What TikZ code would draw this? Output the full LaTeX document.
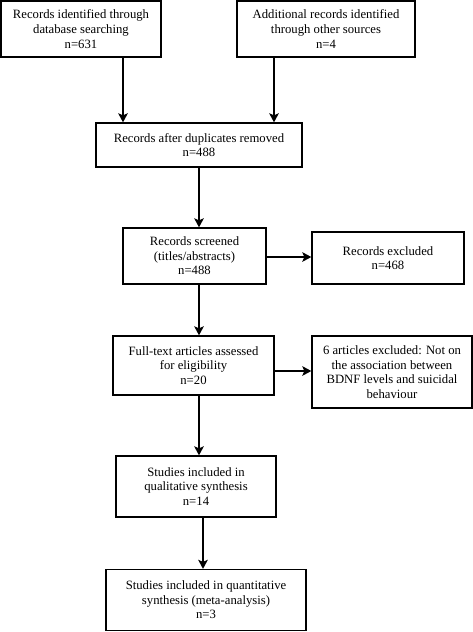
\documentclass[tikz,border=0pt]{standalone}
\usepackage{fontspec}
\setmainfont{Liberation Serif}
\usetikzlibrary{arrows.meta,calc}
\begin{document}
\begin{tikzpicture}[x=1pt,y=-1pt,
  box/.style={draw=black,line width=1.3pt,rectangle,inner sep=0pt,align=center,
    font=\fontsize{12.7}{14.6}\selectfont,text=black},
  arr/.style={draw=black,line width=2.3pt,-{Stealth[length=9pt,width=9.5pt,inset=2pt]}}]
\useasboundingbox[fill=white] (0,0) rectangle (473,632);
\node[box,minimum width=160pt,minimum height=56pt] (b1) at (81,29) {Records identified through\\database searching\\n=631};
\node[box,minimum width=178pt,minimum height=56pt] (b2) at (326,29) {Additional records identified\\through other sources\\n=4};
\node[box,minimum width=206pt,minimum height=44pt] (b3) at (199,145) {Records after duplicates removed\\n=488};
\node[box,minimum width=143pt,minimum height=56pt] (b4) at (194.5,256) {Records screened\\(titles/abstracts)\\n=488};
\node[box,minimum width=152pt,minimum height=52pt] (b5) at (388,258) {Records excluded\\n=468};
\node[box,minimum width=161pt,minimum height=59pt] (b6) at (193.5,365.5) {Full-text articles assessed\\for eligibility\\n=20};
\node[box,minimum width=160pt,minimum height=72pt] (b7) at (392,372) {6 articles excluded: Not on\\the association between\\BDNF levels and suicidal\\behaviour};
\node[box,minimum width=160pt,minimum height=61pt] (b8) at (196,486.5) {Studies included in\\qualitative synthesis\\n=14};
\node[box,minimum width=200pt,minimum height=61pt] (b9) at (206,600) {Studies included in quantitative\\synthesis (meta-analysis)\\n=3};
\coordinate (xa) at (123,0);
\coordinate (xb) at (274,0);
\coordinate (xc) at (199,0);
\coordinate (xd) at (203,0);
\coordinate (ya) at (0,257);
\coordinate (yb) at (0,371);
\draw[arr] (b1.south -| xa) -- (b3.north -| xa);
\draw[arr] (b2.south -| xb) -- (b3.north -| xb);
\draw[arr] (b3.south -| xc) -- (b4.north -| xc);
\draw[arr] (b4.east |- ya) -- (b5.west |- ya);
\draw[arr] (b4.south -| xc) -- (b6.north -| xc);
\draw[arr] (b6.east |- yb) -- (b7.west |- yb);
\draw[arr] (b6.south -| xc) -- (b8.north -| xc);
\draw[arr] (b8.south -| xd) -- (b9.north -| xd);
\end{tikzpicture}
\end{document}
